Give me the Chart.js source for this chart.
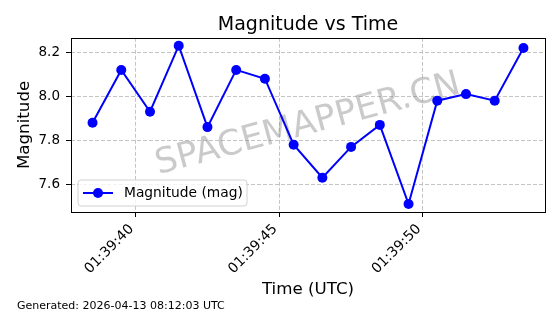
<!DOCTYPE html>
<html>
<head>
<meta charset="utf-8">
<script src="https://cdn.jsdelivr.net/npm/chart.js@4"></script>
<style>
  html, body { margin: 0; padding: 0; background: #fff; }
  #wrap { width: 560px; height: 314px; }
</style>
</head>
<body>
<div id="wrap"><canvas id="chart" width="560" height="314"></canvas></div>
<script>
// seconds after 01:39:00 UTC
const timeSeconds = [38.5, 39.5, 40.5, 41.5, 42.5, 43.5, 44.5, 45.5, 46.5, 47.5, 48.5, 49.5, 50.5, 51.5, 52.5, 53.5];
const magnitudes = [7.88, 8.12, 7.93, 8.23, 7.86, 8.12, 8.08, 7.78, 7.63, 7.77, 7.87, 7.51, 7.98, 8.01, 7.98, 8.22];
const timeTicks = [40, 45, 50];
const timeTickLabels = ['01:39:40', '01:39:45', '01:39:50'];
const magTicks = [7.6, 7.8, 8.0, 8.2];
const seriesLabel = 'Magnitude (mag)';
const footerText = 'Generated: 2026-04-13 08:12:03 UTC';
const watermarkText = 'SPACEMAPPER.CN';

const FONT = "'DejaVu Sans', sans-serif";
Chart.defaults.font.family = FONT;
Chart.defaults.color = '#000';

const gridColor = 'rgba(190,190,190,0.9)';

const overlays = {
  id: 'overlays',
  beforeDatasetsDraw(chart) {
    const { ctx, chartArea: a } = chart;
    ctx.save();
    ctx.translate((a.left + a.right) / 2, (a.top + a.bottom) / 2);
    ctx.rotate(-15 * Math.PI / 180);
    ctx.font = '35px ' + FONT;
    ctx.fillStyle = 'rgba(128,128,128,0.42)';
    ctx.textAlign = 'center';
    ctx.textBaseline = 'middle';
    ctx.fillText(watermarkText, 0, 0);
    ctx.restore();
  },
  afterDraw(chart) {
    const { ctx, chartArea: a } = chart;
    ctx.save();
    // axes frame
    ctx.strokeStyle = '#000';
    ctx.lineWidth = 1;
    ctx.strokeRect(Math.round(a.left) + 0.5, Math.round(a.top) + 0.5,
      Math.round(a.right - a.left), Math.round(a.bottom - a.top));

    // legend, lower left
    const ds = chart.data.datasets[0];
    const lx = a.left + 7, ly = a.bottom - 32;
    ctx.beginPath();
    ctx.roundRect(lx, ly, 169, 26, 3);
    ctx.fillStyle = 'rgba(255,255,255,0.8)';
    ctx.fill();
    ctx.strokeStyle = 'rgba(204,204,204,0.9)';
    ctx.stroke();
    const my = ly + 13;
    ctx.beginPath();
    ctx.moveTo(lx + 5, my);
    ctx.lineTo(lx + 35, my);
    ctx.strokeStyle = ds.borderColor;
    ctx.lineWidth = 2;
    ctx.stroke();
    ctx.beginPath();
    ctx.arc(lx + 20, my, 5, 0, Math.PI * 2);
    ctx.fillStyle = ds.pointBackgroundColor;
    ctx.fill();
    ctx.fillStyle = '#000';
    ctx.font = '13.8px ' + FONT;
    ctx.textBaseline = 'middle';
    ctx.textAlign = 'left';
    ctx.fillText(ds.label, lx + 46, my);

    // footer
    ctx.font = '11px ' + FONT;
    ctx.textBaseline = 'alphabetic';
    ctx.fillText(footerText, 17, 309);
    ctx.restore();
  }
};

new Chart(document.getElementById('chart'), {
  type: 'line',
  data: {
    datasets: [{
      label: seriesLabel,
      data: timeSeconds.map((t, i) => ({ x: t, y: magnitudes[i] })),
      borderColor: '#0000ff',
      backgroundColor: '#0000ff',
      pointBackgroundColor: '#0000ff',
      pointBorderWidth: 0,
      pointRadius: 5,
      borderWidth: 2,
      tension: 0,
      fill: false,
    }],
  },
  options: {
    responsive: false,
    animation: false,
    layout: { padding: { left: 0, right: 15, top: 0, bottom: 14 } },
    plugins: {
      legend: { display: false },
      tooltip: { enabled: false },
      title: {
        display: true,
        text: 'Magnitude vs Time',
        fullSize: false,
        color: '#000',
        font: { size: 19, weight: 'normal' },
        padding: { top: 14, bottom: 1 },
      },
    },
    scales: {
      x: {
        type: 'linear',
        min: 37.75,
        max: 54.25,
        afterBuildTicks: (s) => { s.ticks = timeTicks.map((v) => ({ value: v })); },
        afterFit: (s) => { s.height = 88; },
        ticks: {
          autoSkip: false,
          minRotation: 45,
          maxRotation: 45,
          padding: 4,
          labelOffset: -4,
          font: { size: 14 },
          callback: (v) => timeTickLabels[timeTicks.indexOf(v)],
        },
        grid: { color: gridColor, tickColor: '#000', tickLength: 5, lineWidth: 1 },
        border: { display: false, dash: [4, 2] },
        title: {
          display: true,
          text: 'Time (UTC)',
          font: { size: 16.7 },
          padding: { top: 0, bottom: 0 },
        },
      },
      y: {
        min: 7.474,
        max: 8.266,
        afterBuildTicks: (s) => { s.ticks = magTicks.map((v) => ({ value: v })); },
        afterFit: (s) => { s.width = 71; },
        ticks: {
          padding: 6,
          font: { size: 13.5 },
          callback: (v) => v.toFixed(1),
        },
        grid: { color: gridColor, tickColor: '#000', tickLength: 5, lineWidth: 1 },
        border: { display: false, dash: [4, 2] },
        title: {
          display: true,
          text: 'Magnitude',
          font: { size: 16.7 },
          padding: { top: 15, bottom: 0 },
        },
      },
    },
  },
  plugins: [overlays],
});
</script>
</body>
</html>
